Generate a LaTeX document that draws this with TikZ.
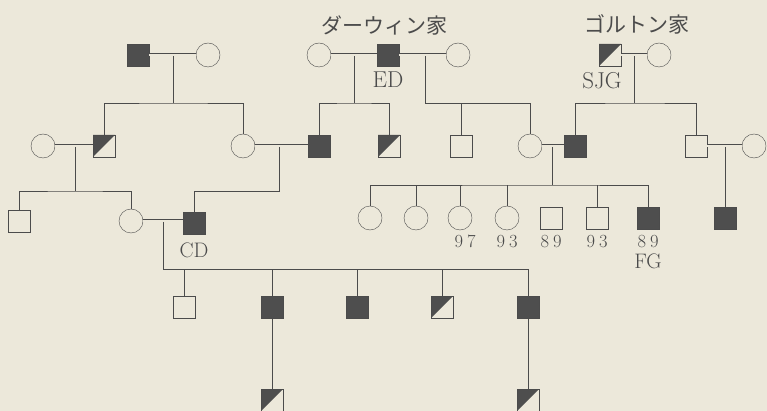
\documentclass[tikz,border=0pt]{standalone}
\usepackage{fontspec}
\newfontfamily\jp{Noto Sans CJK JP}
\usetikzlibrary{positioning}
\definecolor{paper}{RGB}{236,232,218}
\definecolor{ink}{RGB}{75,75,75}
\definecolor{grim}{RGB}{78,78,78}

\begin{document}
\begin{tikzpicture}[x=1pt, y=-1pt,
	male/.style={draw=ink, fill=paper, minimum size=22pt, inner sep=0pt},
	female/.style={circle, draw=ink, fill=paper, minimum size=24pt, inner sep=0pt},
	aff/.style={male, fill=grim},
	half/.style={male, path picture={\fill[grim] (path picture bounding box.north west) -- (path picture bounding box.north east) -- (path picture bounding box.south west) -- cycle;}},
	mate/.style={draw=ink, double=paper, double distance=2pt, line width=0.5pt},
	line/.style={draw=ink, line width=0.6pt},
	lab/.style={text=ink, inner sep=0pt, font=\fontsize{23}{24}\selectfont},
	lab2/.style={text=ink, inner sep=0pt, font=\fontsize{21}{24}\selectfont},
	num/.style={text=ink, inner sep=0pt, font=\fontsize{18.5}{20}\selectfont},
	fam/.style={text=ink, inner sep=0pt, font=\jp\fontsize{21}{24}\selectfont}]
\fill[paper] (0,0) rectangle (767,411);
\useasboundingbox (0,0) rectangle (767,411);

% family names
\node[fam] (tD) at (384,25) {ダーウィン家};
\node[fam] (tG) at (637,24) {ゴルトン家};

% generation 1
\node[aff] (p1) at (138,55) {};
\node[female] (p2) at (208,55) {};
\node[female] (dw) at (319,55) {};
\node[aff, label={[lab, label distance=5pt]below:ED}] (ed) at (388,55) {};
\node[female] (dw2) at (458,55) {};
\node[half, label={[lab, label distance=6pt, xshift=-8pt]below:SJG}] (sjg) at (610,55) {};
\node[female] (gw) at (659,55) {};

% generation 2
\node[female] (qw) at (43,146) {};
\node[half] (q1) at (104,146) {};
\node[female] (q2) at (243,146) {};
\node[aff] (d1) at (319,146) {};
\node[half] (d2) at (389,146) {};
\node[male] (d3) at (461,146) {};
\node[female] (d4) at (530,146) {};
\node[aff] (g1) at (575,146) {};
\node[male] (g2) at (696,146) {};
\node[female] (gw2) at (754,146) {};

% generation 3
\node[male] (r1) at (19,221) {};
\node[female] (cw) at (131,221) {};
\node[aff, label={[lab2, label distance=8pt]below:CD}] (cd) at (194,223) {};
\node[female] (s1) at (370,218) {};
\node[female] (s2) at (416,218) {};
\node[female, label={[num, label distance=5pt, xshift=5pt]below:9\hspace{4pt}7}] (s3) at (460,218) {};
\node[female, label={[num, label distance=5pt]below:9\hspace{4pt}3}] (s4) at (507,218) {};
\node[male, label={[num, label distance=6pt]below:8\hspace{4pt}9}] (s5) at (551,218) {};
\node[male, label={[num, label distance=6pt]below:9\hspace{4pt}3}] (s6) at (597,218) {};
\node[aff, label={[num, label distance=6pt]below:8\hspace{4pt}9}, label={[lab2, label distance=24pt]below:FG}] (s7) at (648,218) {};
\node[aff] (t1) at (725,218) {};

% generation 4 and 5
\node[male] (u1) at (184,307) {};
\node[aff] (u2) at (272,307) {};
\node[aff] (u3) at (357,307) {};
\node[half] (u4) at (442,307) {};
\node[aff] (u5) at (528,307) {};
\node[half] (v1) at (272,400) {};
\node[half] (v2) at (528,400) {};

% marriages
\draw[mate] (p1) -- (p2);
\draw[mate] (dw) -- (ed);
\draw[mate] (ed) -- (dw2);
\draw[mate] (sjg) -- (gw);
\draw[mate] (qw) -- (q1);
\draw[mate] (q2) -- (d1);
\draw[mate] (d4) -- (g1);
\draw[mate] (g2) -- (gw2);
\draw[mate] (cw) -- (cw -| cd.west);

\coordinate (mP) at (173,56);  \coordinate (bP) at (173,103);
\coordinate (m1) at (354,56);  \coordinate (b1) at (354,103);
\coordinate (m2) at (425,56);  \coordinate (b2) at (425,103);
\coordinate (m3) at (634,56);  \coordinate (b3) at (634,103);
\coordinate (mQ) at (75,147);  \coordinate (bQ) at (75,191);
\coordinate (mR) at (279,147); \coordinate (bR) at (279,191);
\coordinate (mS) at (552,147); \coordinate (bS) at (552,185);
\coordinate (mT) at (725,147);
\coordinate (mU) at (163,222); \coordinate (bU) at (163,269);

% descent
\draw[line] (mP) -- (bP);
\draw[line] (q1) |- (bP) -| (q2);
\draw[line] (m1) -- (b1);
\draw[line] (d1) |- (b1) -| (d2);
\draw[line] (m2) -- (b2) -| (d4);
\draw[line] (d3) -- (d3 |- b2);
\draw[line] (m3) -- (b3);
\draw[line] (g1) |- (b3) -| (g2);
\draw[line] (mQ) -- (bQ);
\draw[line] (r1) |- (bQ) -| (cw);
\draw[line] (mR) -- (bR) -| (cd);
\draw[line] (mS) -- (bS);
\draw[line] (s1) |- (bS) -| (s7);
\foreach \k in {s2,s3,s4,s6}
	\draw[line] (\k) -- (\k |- bS);
\draw[line] (mT) -- (t1);
\draw[line] (mU) -- (bU) -| (u5);
\foreach \k in {u1,u2,u3,u4}
	\draw[line] (\k) -- (\k |- bU);
\draw[line] (u2) -- (v1);
\draw[line] (u5) -- (v2);

\end{tikzpicture}
\end{document}
